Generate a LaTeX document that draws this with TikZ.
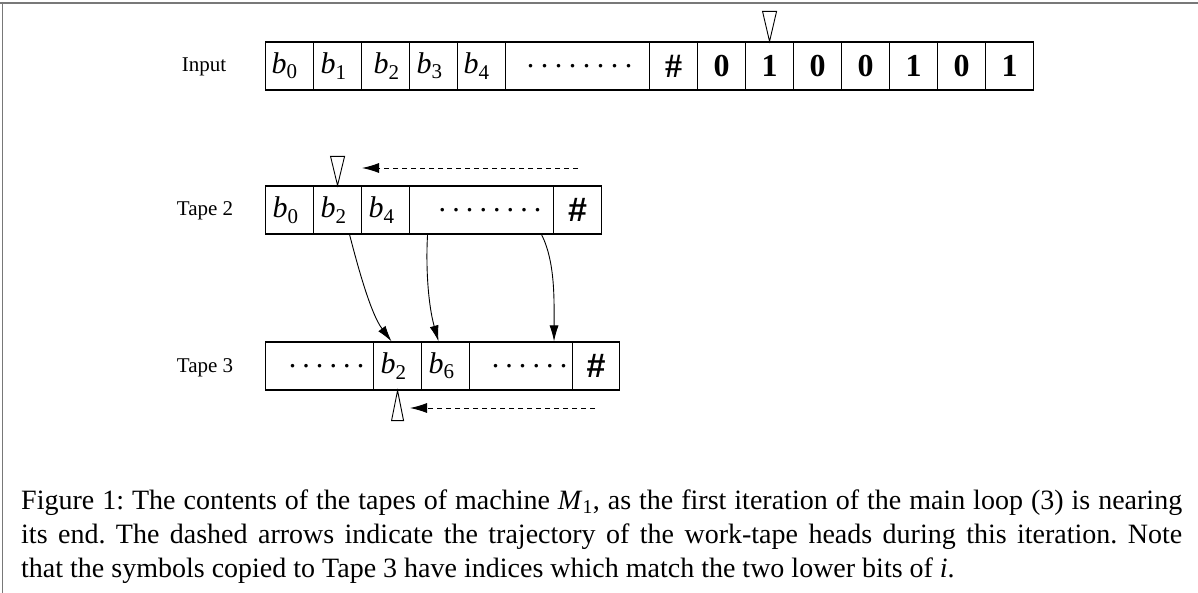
\documentclass[tikz,border=0pt]{standalone}
\usepackage{fontspec}
\setmainfont{Liberation Serif}
\setsansfont{Liberation Sans}
\usetikzlibrary{arrows.meta}
\frenchspacing
\newcommand\bsym[1]{\textit{b}\textsubscript{#1}}
\newcommand\dotsn[2]{\foreach\k in {1,...,#1}{\makebox[#2]{.}}}
\definecolor{framegray}{RGB}{120,120,120}
\tikzset{
  cell/.style={draw, line width=1.1pt, minimum height=48pt, inner sep=0pt, anchor=west,
    font=\fontsize{30}{36}\selectfont},
  bcell/.style={cell, minimum width=48pt, text width=48pt, align=left},
  digit/.style={cell, minimum width=48pt, font=\fontsize{32}{36}\selectfont\bfseries},
  sharp/.style={cell, font=\fontsize{34}{38}\selectfont\sffamily\bfseries},
  tapelabel/.style={anchor=base, inner sep=0pt, font=\fontsize{21}{25}\selectfont},
  headshape/.style={draw, line width=0.9pt},
  dasharrow/.style={line width=0.9pt, dash pattern=on 5pt off 4pt, -{Latex[length=17pt,width=10pt]}},
  curvearrow/.style={line width=0.9pt, -{Latex[length=16pt,width=9pt]}},
  captionline/.style={anchor=base west, inner sep=0pt, font=\fontsize{28}{34}\selectfont}
}
\begin{document}
\begin{tikzpicture}[x=1pt, y=-1pt]
\useasboundingbox (0,0) rectangle (1198,593);
% frame
\draw[framegray, line width=2pt] (0,3) -- (1198,3);
\draw[framegray, line width=1.5pt] (2.5,2) -- (2.5,593);

% Input tape
\node[tapelabel] (lin) at (204,72) {Input};
\node[bcell] (in0) at (265,66) {\hspace*{6pt}\bsym{0}};
\node[bcell] (in1) at (313,66) {\hspace*{7pt}\bsym{1}};
\node[bcell] (in2) at (361,66) {\hspace*{12pt}\bsym{2}};
\node[bcell] (in3) at (409,66) {\hspace*{7pt}\bsym{3}};
\node[bcell] (in4) at (457,66) {\hspace*{6pt}\bsym{4}};
\node[cell, minimum width=144pt] (indots) at (505,66) {\hspace*{4pt}\dotsn{8}{14pt}};
\node[digit, font=\fontsize{34}{38}\selectfont\bfseries] (inh) at (649,66) {\#};
\node[digit] (d1) at (697,66) {0};
\node[digit] (d2) at (745,66) {1};
\node[digit] (d3) at (793,66) {0};
\node[digit] (d4) at (841,66) {0};
\node[digit] (d5) at (889,66) {1};
\node[digit] (d6) at (937,66) {0};
\node[digit] (d7) at (985,66) {1};
\draw[headshape] (d2.north) -- ++(-7,-30) -- ++(14,0) -- cycle;

% Tape 2
\node[tapelabel] (lt2) at (205,216) {Tape 2};
\node[bcell] (t2c0) at (265,210) {\hspace*{7pt}\bsym{0}};
\node[bcell] (t2c1) at (313,210) {\hspace*{7pt}\bsym{2}};
\node[bcell] (t2c2) at (361,210) {\hspace*{7pt}\bsym{4}};
\node[cell, minimum width=144pt] (t2dots) at (409,210) {\hspace*{17pt}\dotsn{8}{13.6pt}};
\node[sharp, minimum width=48pt] (t2h) at (553,210) {\#};
\draw[headshape] (t2c1.north) -- ++(-7,-29) -- ++(14,0) -- cycle;
\coordinate (t2s) at (578,168);
\coordinate (t2e) at (362,168);
\draw[dasharrow] (t2s) -- (t2e);

% Tape 3
\node[tapelabel] (lt3) at (205,372) {Tape 3};
\node[cell, minimum width=108pt] (t3dA) at (265,366) {\hspace*{14pt}\dotsn{6}{13.6pt}};
\node[bcell] (t3c1) at (373,366) {\hspace*{7pt}\bsym{2}};
\node[bcell] (t3c2) at (421,366) {\hspace*{7pt}\bsym{6}};
\node[cell, minimum width=103pt] (t3dB) at (469,366) {\hspace*{17pt}\dotsn{6}{13.6pt}};
\node[sharp, minimum width=47pt] (t3h) at (572,366) {\#};
\draw[headshape] (t3c1.south) -- ++(-6,30) -- ++(12,0) -- cycle;
\coordinate (t3s) at (595,408);
\coordinate (t3e) at (410,408);
\draw[dasharrow] (t3s) -- (t3e);

% copy arrows
\draw[curvearrow] ([xshift=12pt]t2c1.south) .. controls +(8,31) and +(-21,-28) .. ([xshift=-6pt]t3c1.north);
\draw[curvearrow] ([xshift=-54pt]t2dots.south) .. controls +(-2,35) and +(-10,-35) .. ([xshift=-7pt]t3c2.north);
\draw[curvearrow] ([xshift=60pt]t2dots.south) .. controls +(14,28) and +(0,-40) .. ([xshift=33pt]t3dB.north);

% caption
\node[captionline] (cap1) at (21,509) {\makebox[1161pt][s]{Figure 1: The contents of the tapes of machine \textit{M}\textsubscript{1}, as the first iteration of the main loop (3) is nearing}};
\node[captionline] (cap2) at (21,543) {\makebox[1161pt][s]{its end. The dashed arrows indicate the trajectory of the work-tape heads during this iteration. Note}};
\node[captionline] (cap3) at (21,577) {that the symbols copied to Tape 3 have indices which match the two lower bits of \textit{i}.};
\end{tikzpicture}
\end{document}
